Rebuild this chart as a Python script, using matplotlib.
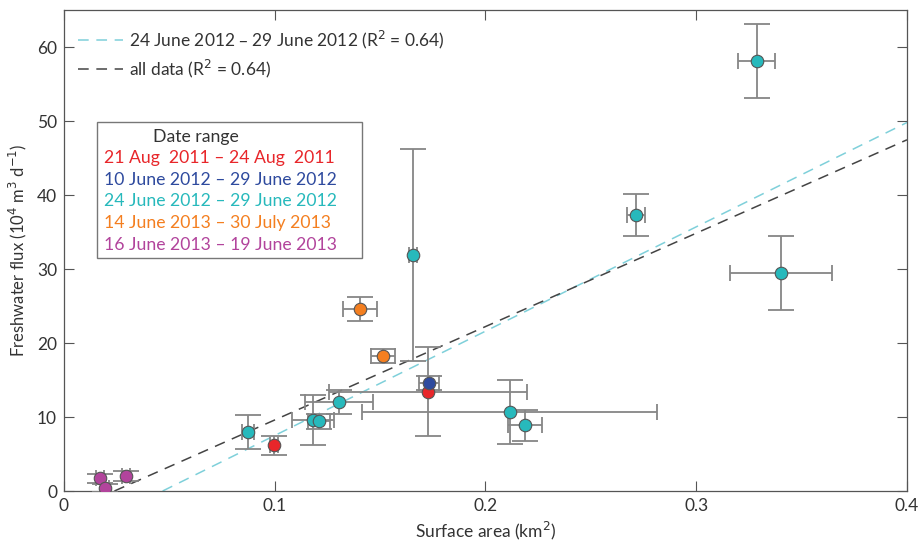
import matplotlib
matplotlib.use("Agg")
import matplotlib.pyplot as plt
from matplotlib.patches import Rectangle
from matplotlib.lines import Line2D
import numpy as np

plt.rcParams['font.family'] = ['Lato', 'DejaVu Sans']

# ---- data ----
red_x = [0.0996, 0.1729]
red_y = [6.2, 13.4]
red_xerr = [0.002, 0.047]
red_yerr = [1.3, 6.0]

blue_x = [0.1733]
blue_y = [14.6]
blue_xerr = [0.0047]
blue_yerr = [1.0]

cyan_x = [0.0873, 0.1180, 0.1210, 0.1305, 0.1656, 0.2116, 0.2187, 0.2714, 0.3288, 0.3402]
cyan_y = [8.0, 9.6, 9.4, 12.0, 31.9, 10.7, 8.9, 37.3, 58.1, 29.5]
cyan_xerr = [0.003, 0.010, 0.005, 0.016, 0.002, 0.070, 0.008, 0.0043, 0.0088, 0.024]
cyan_yerr = [2.3, 3.4, 1.0, 1.6, 14.3, 4.3, 2.1, 2.9, 5.0, 5.0]

orange_x = [0.1404, 0.1514]
orange_y = [24.6, 18.2]
orange_xerr = [0.008, 0.0055]
orange_yerr = [1.6, 0.95]

magenta_x = [0.0171, 0.0194, 0.0294]
magenta_y = [1.7, 0.4, 2.0]
magenta_xerr = [0.002, 0.002, 0.002]
magenta_yerr = [0.6, 0.6, 0.7]

# regression lines: slope, intercept
fit_cyan = (141.0, -6.6)
fit_all = (126.2, -3.02)

date_labels = ["21 Aug  2011 \u2013 24 Aug  2011",
               "10 June 2012 \u2013 29 June 2012",
               "24 June 2012 \u2013 29 June 2012",
               "14 June 2013 \u2013 30 July 2013",
               "16 June 2013 \u2013 19 June 2013"]
line_labels = ["24 June 2012 \u2013 29 June 2012 (R$^2$ = 0.64)",
               "all data (R$^2$ = 0.64)"]
x_ticks = [0, 0.1, 0.2, 0.3, 0.4]
x_ticklabels = ["0", "0.1", "0.2", "0.3", "0.4"]
y_ticks = [0, 10, 20, 30, 40, 50, 60]

# ---- style ----
c_red = '#e8262a'
c_blue = '#2e4a9e'
c_cyan = '#27b9bc'
c_orange = '#f47f20'
c_magenta = '#b2449c'
c_err = '#868686'
c_edge = '#555555'
c_text = '#333333'

fig = plt.figure(figsize=(9.2, 5.44), dpi=100)
ax = fig.add_axes([64/920, 1-491/544, (907-64)/920, (491-10)/544])

# fit lines
for (m, b), col in [(fit_cyan, '#7fd0da'), (fit_all, '#444444')]:
    x0 = -b / m
    xs = np.array([x0, 0.4])
    ax.plot(xs, m*xs + b, color=col, lw=1.1, dashes=(7, 5), zorder=2)

groups = [
    (magenta_x, magenta_y, magenta_xerr, magenta_yerr, c_magenta),
    (red_x, red_y, red_xerr, red_yerr, c_red),
    (blue_x, blue_y, blue_xerr, blue_yerr, c_blue),
    (cyan_x, cyan_y, cyan_xerr, cyan_yerr, c_cyan),
    (orange_x, orange_y, orange_xerr, orange_yerr, c_orange),
]
for gx, gy, gxe, gye, col in groups:
    ax.errorbar(gx, gy, yerr=gye, fmt='none', ecolor=c_err, elinewidth=1.3,
                capsize=9.5, capthick=1.3, zorder=3)
    ax.errorbar(gx, gy, xerr=gxe, fmt='none', ecolor=c_err, elinewidth=1.3,
                capsize=5.5, capthick=1.3, zorder=3)
for gx, gy, gxe, gye, col in groups:
    ax.plot(gx, gy, 'o', ms=9, mfc=col, mec=c_edge, mew=0.8, ls='none', zorder=5)

ax.set_xlim(0, 0.4)
ax.set_ylim(0, 65)
ax.set_xticks(x_ticks)
ax.set_xticklabels(x_ticklabels)
ax.set_yticks(y_ticks)
ax.tick_params(direction='in', length=7, width=0.8, top=True, right=True,
               labelsize=12.5, colors='#555555', labelcolor=c_text, pad=5)
for s in ax.spines.values():
    s.set_color('#555555')
    s.set_linewidth(0.9)

ax.set_xlabel("Surface area (km$^2$)", fontsize=12.5, color=c_text, labelpad=4)
ax.set_ylabel("Freshwater flux (10$^4$ m$^3$ d$^{-1}$)", fontsize=12, color=c_text, labelpad=6)

# line legend
handles = [Line2D([], [], color='#7fd0da', lw=1.1, dashes=(7, 5)),
           Line2D([], [], color='#444444', lw=1.1, dashes=(7, 5))]
leg = ax.legend(handles, line_labels, loc='upper left', frameon=False, fontsize=12.5,
                handlelength=2.6, handletextpad=0.35, labelspacing=0.4,
                bbox_to_anchor=(0.0, 0.99), borderaxespad=0.4)
for t in leg.get_texts():
    t.set_color(c_text)

# date range box
def px2ax(px, py):
    return ((px-64)/843, (491-py)/481)

bx0, by0 = px2ax(97, 258)
bx1, by1 = px2ax(362, 122)
ax.add_patch(Rectangle((bx0, by0), bx1-bx0, by1-by0, transform=ax.transAxes,
                       fill=True, facecolor='white', edgecolor='#777777', lw=1.0, zorder=6))
tx, ty = px2ax(196, 137)
ax.text(tx, ty, "Date range", transform=ax.transAxes, ha='center', va='center',
        fontsize=12.7, color=c_text, zorder=7)
cols = [c_red, c_blue, c_cyan, c_orange, c_magenta]
for i, (lab, col) in enumerate(zip(date_labels, cols)):
    lx, ly = px2ax(104, 158 + i*21.7)
    ax.text(lx, ly, lab, transform=ax.transAxes, ha='left', va='center',
            fontsize=12.7, color=col, zorder=7)

fig.savefig("out.png", dpi=100)
